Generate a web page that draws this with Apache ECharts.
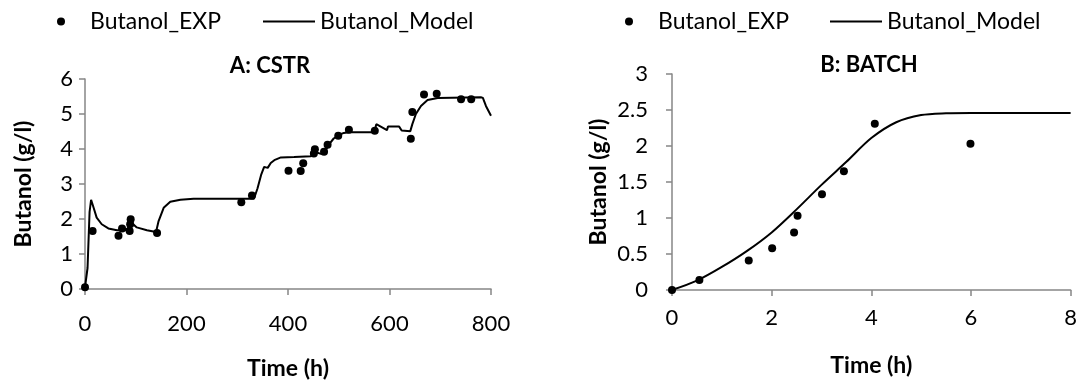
<!DOCTYPE html>
<html>
<head>
<meta charset="utf-8">
<script src="https://cdn.jsdelivr.net/npm/echarts@6/dist/echarts.min.js"></script>
<style>
	html, body { margin: 0; padding: 0; background: #fff; }
	#chart { width: 1080px; height: 385px; }
</style>
</head>
<body>
<div id="chart"></div>
<script>
// A: CSTR - experimental points [time h, butanol g/l]
var cstrExp = [
	[0, 0.05], [15, 1.66], [66, 1.52], [73, 1.73], [88, 1.66], [89, 1.85], [90, 1.99],
	[142, 1.60], [308, 2.48], [329, 2.67], [401, 3.38], [425, 3.37], [430, 3.59],
	[451, 3.87], [453, 3.99], [471, 3.92], [478, 4.12], [499, 4.38], [520, 4.55],
	[571, 4.52], [642, 4.29], [645, 5.06], [668, 5.56], [693, 5.58], [741, 5.42], [761, 5.42]
];
// A: CSTR - model curve
var cstrModel = [
	[0, 0.05], [5, 0.6], [9, 2.2], [12, 2.55], [14, 2.52], [17, 2.32], [23, 2.04], [33, 1.85],
	[46, 1.73], [63, 1.68], [80, 1.68], [85, 1.75], [89, 1.92], [95, 1.85], [102, 1.76],
	[122, 1.68], [140, 1.63], [145, 1.94], [155, 2.32], [168, 2.49], [188, 2.55], [214, 2.58],
	[333, 2.58], [340, 2.88], [347, 3.26], [353, 3.49], [360, 3.46], [366, 3.6], [373, 3.68],
	[386, 3.76], [412, 3.77], [445, 3.79], [452, 3.92], [465, 3.86], [472, 3.9], [480, 4.12],
	[490, 4.3], [500, 4.4], [510, 4.46], [520, 4.48], [570, 4.48], [574, 4.71], [595, 4.54],
	[597, 4.64], [619, 4.64], [624, 4.53], [641, 4.51], [645, 4.71], [652, 5.0], [662, 5.23],
	[675, 5.4], [695, 5.46], [780, 5.48], [784, 5.46], [790, 5.23], [800, 4.95]
];
// B: BATCH
var batchExp = [
	[0, 0], [0.55, 0.14], [1.54, 0.41], [2.01, 0.58], [2.45, 0.80], [2.52, 1.03],
	[3.01, 1.33], [3.45, 1.65], [4.07, 2.31], [5.99, 2.03]
];
var batchModel = [
	[0, 0], [0.5, 0.13], [1, 0.32], [1.5, 0.54], [2, 0.8], [2.5, 1.12], [3, 1.46],
	[3.5, 1.78], [4, 2.11], [4.5, 2.33], [5, 2.43], [5.5, 2.455], [6, 2.46], [7, 2.46], [8, 2.46]
];

var font = "Lato";
var axisGray = "#868686";

function xAxisOpt(idx, max, interval, margin, gap) {
	return {
		type: "value", gridIndex: idx, min: 0, max: max, interval: interval,
		name: "Time (h)", nameLocation: "middle", nameGap: gap,
		nameTextStyle: { fontFamily: font, fontSize: 23, fontWeight: "bold", color: "#000" },
		axisLine: { lineStyle: { color: axisGray, width: 1.5 } },
		axisTick: { show: true, length: 6, lineStyle: { color: axisGray, width: 1.5 } },
		axisLabel: { fontFamily: font, fontSize: 22, color: "#000", margin: margin },
		splitLine: { show: false }
	};
}
function yAxisOpt(idx, max, interval, margin, gap) {
	return {
		type: "value", gridIndex: idx, min: 0, max: max, interval: interval,
		name: "Butanol (g/l)", nameLocation: "middle", nameGap: gap,
		nameTextStyle: { fontFamily: font, fontSize: 23, fontWeight: "bold", color: "#000" },
		axisLine: { show: true, lineStyle: { color: axisGray, width: 1.5 } },
		axisTick: { show: true, length: 6, lineStyle: { color: axisGray, width: 1.5 } },
		axisLabel: { fontFamily: font, fontSize: 22, color: "#000", margin: margin },
		splitLine: { show: false }
	};
}
// dot legend for the points, thin bar legend for the model line
function legendOpt(name, left, isDot) {
	return {
		data: [name], left: left, top: isDot ? 10 : 10, padding: 0,
		itemWidth: isDot ? 8 : 52, itemHeight: isDot ? 8 : 2,
		icon: isDot ? "circle" : "rect",
		textStyle: { fontFamily: font, fontSize: 23, color: "#000", padding: isDot ? [0, 0, 0, 20] : [0, 0, 0, 0] }
	};
}

var myChart = echarts.init(document.getElementById("chart"));
var option = {
	animation: false,
	backgroundColor: "#fff",
	title: [
		{ text: "A: CSTR", left: 265, top: 50, textAlign: "center",
			textStyle: { fontFamily: font, fontSize: 22, fontWeight: "bold", color: "#000" } },
		{ text: "B: BATCH", left: 864, top: 49, textAlign: "center",
			textStyle: { fontFamily: font, fontSize: 22, fontWeight: "bold", color: "#000" } }
	],
	legend: [
		legendOpt("Butanol_EXP", 57, true),
		legendOpt("Butanol_Model", 263, false),
		legendOpt("Butanol_EXP", 625, true),
		legendOpt("Butanol_Model", 830, false)
	],
	grid: [
		{ left: 85, right: 589, top: 79, bottom: 92 },
		{ left: 672, right: 9, top: 74, bottom: 95 }
	],
	xAxis: [xAxisOpt(0, 800, 200, 24, 68), xAxisOpt(1, 8, 2, 17, 64)],
	yAxis: [yAxisOpt(0, 6, 1, 12, 50), yAxisOpt(1, 3, 0.5, 24, 62)],
	series: [
		{ name: "Butanol_EXP", type: "scatter", xAxisIndex: 0, yAxisIndex: 0, data: cstrExp,
			symbolSize: 8, itemStyle: { color: "#000", opacity: 1 } },
		{ name: "Butanol_Model", type: "line", xAxisIndex: 0, yAxisIndex: 0, data: cstrModel,
			symbol: "none", lineStyle: { color: "#000", width: 2 }, itemStyle: { color: "#000" } },
		{ name: "Butanol_EXP", type: "scatter", xAxisIndex: 1, yAxisIndex: 1, data: batchExp,
			symbolSize: 8, itemStyle: { color: "#000", opacity: 1 } },
		{ name: "Butanol_Model", type: "line", xAxisIndex: 1, yAxisIndex: 1, data: batchModel,
			symbol: "none", smooth: 0.3, lineStyle: { color: "#000", width: 2 }, itemStyle: { color: "#000" } }
	]
};
myChart.setOption(option);
</script>
</body>
</html>
